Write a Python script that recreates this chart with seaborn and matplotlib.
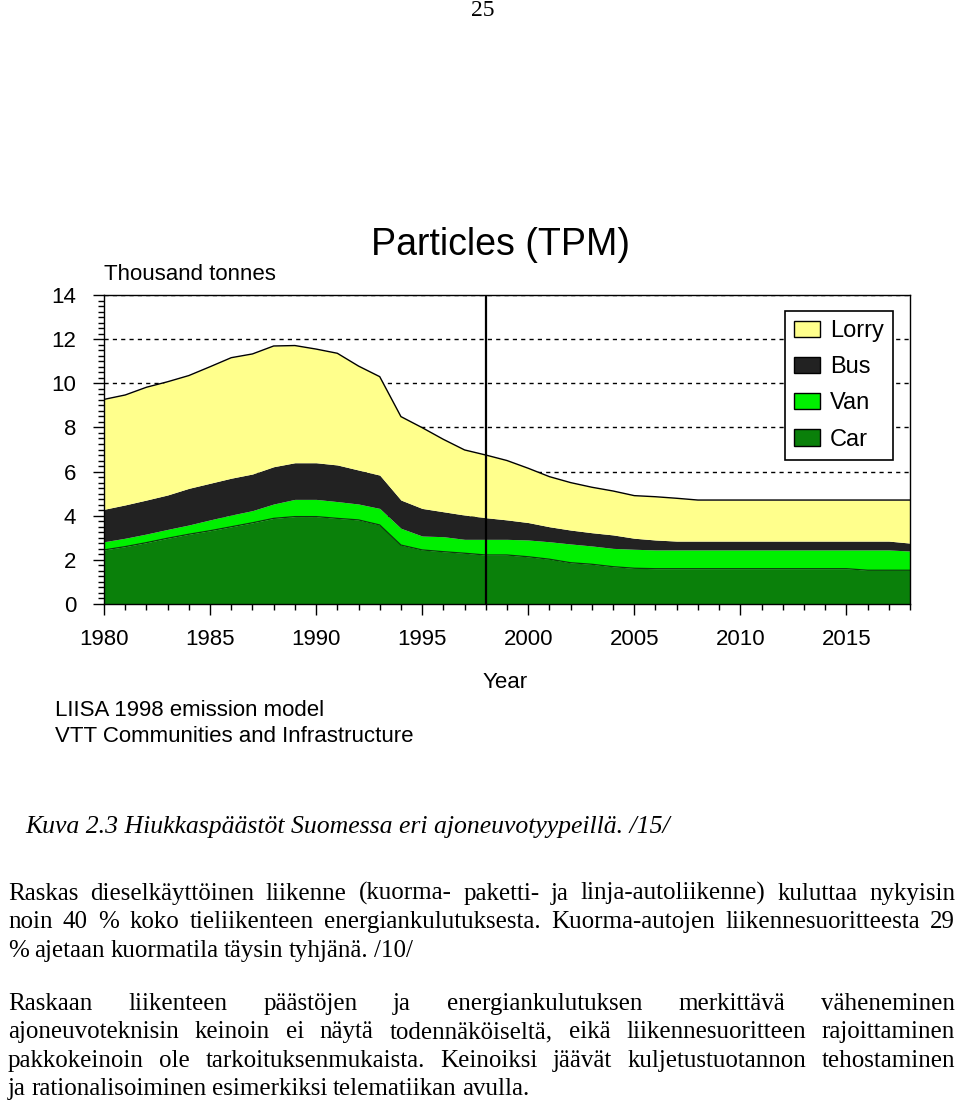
import numpy as np
import pandas as pd
import seaborn as sns
import matplotlib.pyplot as plt
from matplotlib.patches import Patch
from matplotlib.ticker import MultipleLocator

# Hiukkaspäästöt (tuhatta tonnia) ajoneuvotyypeittäin, luettu kuvasta
years = list(range(1980, 2019))
car = [2.45, 2.60, 2.78, 2.98, 3.16, 3.32, 3.50, 3.68, 3.88, 3.96,
       3.96, 3.88, 3.81, 3.58, 2.67, 2.45, 2.37, 2.30, 2.22, 2.22,
       2.14, 2.03, 1.87, 1.80, 1.69, 1.62, 1.60, 1.60, 1.60, 1.60,
       1.60, 1.60, 1.60, 1.60, 1.60, 1.60, 1.53, 1.53, 1.53]
van = [0.37, 0.38, 0.39, 0.40, 0.42, 0.49, 0.53, 0.55, 0.65, 0.78,
       0.78, 0.76, 0.72, 0.75, 0.76, 0.63, 0.68, 0.63, 0.71, 0.71,
       0.76, 0.79, 0.85, 0.83, 0.83, 0.86, 0.85, 0.85, 0.85, 0.85,
       0.85, 0.85, 0.85, 0.85, 0.85, 0.85, 0.92, 0.92, 0.87]
bus = [1.47, 1.51, 1.54, 1.56, 1.66, 1.66, 1.67, 1.66, 1.69, 1.66,
       1.66, 1.66, 1.54, 1.51, 1.28, 1.25, 1.13, 1.10, 0.98, 0.88,
       0.79, 0.68, 0.63, 0.60, 0.61, 0.50, 0.45, 0.40, 0.40, 0.40,
       0.40, 0.40, 0.40, 0.40, 0.40, 0.40, 0.40, 0.40, 0.36]
lorry = [4.98, 4.98, 5.11, 5.13, 5.11, 5.28, 5.46, 5.44, 5.47, 5.31,
         5.15, 5.06, 4.71, 4.46, 3.78, 3.66, 3.28, 2.95, 2.84, 2.69,
         2.46, 2.27, 2.15, 2.06, 1.99, 1.93, 1.96, 1.94, 1.86, 1.86,
         1.86, 1.86, 1.86, 1.86, 1.86, 1.86, 1.86, 1.86, 1.95]

labels = ['Car', 'Van', 'Bus', 'Lorry']
colors = ['#0a800a', '#00f000', '#222222', '#ffff8c']

df = pd.DataFrame({'year': years, 'car': car, 'van': van, 'bus': bus, 'lorry': lorry})
df['car_top'] = df['car']
df['total'] = df['car'] + df['van'] + df['bus'] + df['lorry']

sns.set_theme(style='ticks')
plt.rcParams['font.family'] = ['Liberation Sans', 'DejaVu Sans']
plt.rcParams['text.color'] = 'black'

W, H = 960, 1106
fig = plt.figure(figsize=(W / 100, H / 100), dpi=100)
fig.patch.set_facecolor('white')

ax = fig.add_axes([104 / W, 1 - 604 / H, 806 / W, 309 / H])
ax.set_facecolor('white')
ax.set_axisbelow(True)
ax.yaxis.grid(True, color='black', linestyle=(0, (3, 3)), linewidth=1)

ax.stackplot(df['year'], df['car'], df['van'], df['bus'], df['lorry'],
             colors=colors, linewidth=0)
sns.lineplot(x='year', y='total', data=df, color='black', linewidth=1, ax=ax)
sns.lineplot(x='year', y='car_top', data=df, color='#0b3b0b', linewidth=0.9, ax=ax)
ax.axvline(1998, color='black', linewidth=1.6)

ax.set_xlim(1980, 2018)
ax.set_ylim(0, 14)
ax.set_xticks(range(1980, 2019, 5))
ax.xaxis.set_minor_locator(MultipleLocator(1))
ax.set_yticks(range(0, 15, 2))
ax.yaxis.set_minor_locator(MultipleLocator(0.25))
ax.tick_params(which='major', direction='out', length=8, width=1, color='black',
               labelsize=16, labelcolor='black')
ax.tick_params(which='minor', direction='out', length=4, width=1, color='black')
ax.tick_params(axis='x', pad=10)
ax.tick_params(axis='y', pad=12)
ax.set_xlabel('')
ax.set_ylabel('')
for s in ax.spines.values():
    s.set_visible(True)
    s.set_color('black')
    s.set_linewidth(1)

handles = [Patch(facecolor=c, edgecolor='black', linewidth=1, label=l)
           for c, l in zip(colors[::-1], labels[::-1])]
leg = ax.legend(handles=handles, loc='upper right', bbox_to_anchor=(0.979, 0.948),
                borderaxespad=0, fontsize=17, frameon=True, fancybox=False,
                edgecolor='black', framealpha=1, handlelength=1.1, handleheight=0.7,
                labelspacing=0.6, handletextpad=0.45, borderpad=0.38)
leg.get_frame().set_linewidth(1.2)
for t in leg.get_texts():
    t.set_color('black')


def fy(y):
    return 1 - y / H


fig.text(500 / W, fy(245), 'Particles (TPM)', ha='center', va='center', fontsize=27)
fig.text(104 / W, fy(274), 'Thousand tonnes', ha='left', va='center', fontsize=16)
fig.text(505 / W, fy(683), 'Year', ha='center', va='center', fontsize=16)
fig.text(55 / W, fy(710), 'LIISA 1998 emission model', ha='left', va='center', fontsize=16)
fig.text(55 / W, fy(737), 'VTT Communities and Infrastructure', ha='left', va='center',
         fontsize=16)

# Sivunumero ja teksti
serif = ['Liberation Serif', 'DejaVu Serif']
fig.text(483 / W, fy(10), '25', ha='center', va='center', fontsize=17, family=serif)
fig.text(25 / W, fy(833), 'Kuva 2.3 Hiukkaspäästöt Suomessa eri ajoneuvotyypeillä. /15/',
         ha='left', va='baseline', fontsize=18.5, family=serif, style='italic')

renderer = fig.canvas.get_renderer()


def put_line(line, base, justify, x0=8, x1=955):
    words = line.split(' ')
    texts = [fig.text(0, fy(base), w, ha='left', va='baseline', fontsize=18,
                      family=serif) for w in words]
    widths = [t.get_window_extent(renderer).width for t in texts]
    if justify and len(words) > 1:
        gap = (x1 - x0 - sum(widths)) / (len(words) - 1)
    else:
        gap = 5.5
    x = x0
    for t, w in zip(texts, widths):
        t.set_x(x / W)
        x += w + gap


para1 = ['Raskas dieselkäyttöinen liikenne (kuorma- paketti- ja linja-autoliikenne) kuluttaa nykyisin',
         'noin 40 % koko tieliikenteen energiankulutuksesta. Kuorma-autojen liikennesuoritteesta 29',
         '% ajetaan kuormatila täysin tyhjänä. /10/']
para2 = ['Raskaan liikenteen päästöjen ja energiankulutuksen merkittävä väheneminen',
         'ajoneuvoteknisin keinoin ei näytä todennäköiseltä, eikä liikennesuoritteen rajoittaminen',
         'pakkokeinoin ole tarkoituksenmukaista. Keinoiksi jäävät kuljetustuotannon tehostaminen',
         'ja rationalisoiminen esimerkiksi telematiikan avulla.']

for i, line in enumerate(para1):
    put_line(line, 900 + i * 28.4, i < len(para1) - 1)
for i, line in enumerate(para2):
    put_line(line, 1010 + i * 28.4, i < len(para2) - 1)

fig.savefig('out.png', dpi=100, facecolor='white')
